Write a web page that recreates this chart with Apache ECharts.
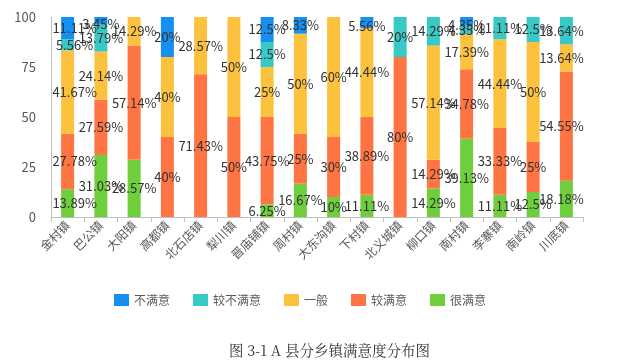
<!DOCTYPE html>
<html><head><meta charset="utf-8">
<script src="https://cdn.jsdelivr.net/npm/echarts@6/dist/echarts.min.js"></script>
<style>html,body{margin:0;padding:0;background:#fff}#c{width:622px;height:363px}</style>
</head><body><div id="c"></div>
<script>
const categories = ['金村镇','巴公镇','大阳镇','高都镇','北石店镇','犁川镇','晋庙铺镇','周村镇','大东沟镇','下村镇','北义城镇','柳口镇','南村镇','李寨镇','南岭镇','川底镇'];
const veryUnsat = [11.11, 3.45, 0, 20, 0, 0, 12.5, 8.33, 0, 5.56, 0, 0, 4.35, 0, 0, 0];
const ratherUnsat = [5.56, 13.79, 0, 0, 0, 0, 12.5, 0, 0, 0, 20, 14.29, 4.35, 11.11, 12.5, 13.64];
const neutral = [41.67, 24.14, 14.29, 40, 28.57, 50, 25, 50, 60, 44.44, 0, 57.14, 17.39, 44.44, 50, 13.64];
const ratherSat = [27.78, 27.59, 57.14, 40, 71.43, 50, 43.75, 25, 30, 38.89, 80, 14.29, 34.78, 33.33, 25, 54.55];
const verySat = [13.89, 31.03, 28.57, 0, 0, 0, 6.25, 16.67, 10, 11.11, 0, 14.29, 39.13, 11.11, 12.5, 18.18];
const yTicks = [0, 25, 50, 75, 100];

const colors = {'不满意':'#1590f0','较不满意':'#38c8c6','一般':'#fcc23e','较满意':'#fe7442','很满意':'#6fce3c'};

function mk(name, arr, topSeries) {
  return {
    name, type: 'bar', stack: 'all', barWidth: 13,
    itemStyle: {color: colors[name]},
    data: arr.map((v, i) => {
      const d = {value: v};
      let ox = 0, oy = 0;
      if (i === 0) ox = 7;
      if (i === categories.length - 1) ox = -5;
      if (topSeries && v > 0 && v < 7) oy = 4;
      d.label = {offset: [ox, oy]};
      return d;
    }),
    label: {
      show: true, position: 'inside', color: '#333', fontSize: 13,
      fontFamily: 'Noto Sans CJK SC, sans-serif',
      formatter: p => p.value > 0 ? p.value + '%' : ''
    }
  };
}

const chart = echarts.init(document.getElementById('c'));
chart.setOption({
  animation: false,
  title: {
    text: '图 3-1 A 县分乡镇满意度分布图', left: 224, top: 338,
    textStyle: {fontSize: 14.5, fontWeight: 'normal', color: '#333', fontFamily: 'Noto Serif CJK SC, DejaVu Serif, serif'}
  },
  legend: {
    left: 109, top: 289, itemWidth: 15, itemHeight: 12, itemGap: 23,
    icon: 'rect',
    textStyle: {fontSize: 12, color: '#595959', fontFamily: 'Noto Sans CJK SC, sans-serif'},
    data: ['不满意','较不满意','一般','较满意','很满意']
  },
  grid: {left: 51, right: 39, top: 17, bottom: 146},
  xAxis: {
    type: 'category', data: categories,
    axisLine: {lineStyle: {color: '#bfbfbf'}},
    axisTick: {show: true, length: 5, lineStyle: {color: '#bfbfbf'}},
    axisLabel: {rotate: 45, fontSize: 12, color: '#595959', margin: 6, interval: 0, fontFamily: 'Noto Sans CJK SC, sans-serif'}
  },
  yAxis: {
    type: 'value', min: yTicks[0], max: yTicks[yTicks.length - 1], interval: 25,
    splitLine: {show: false},
    axisLine: {show: true, lineStyle: {color: '#bfbfbf'}},
    axisTick: {show: false},
    axisLabel: {fontSize: 13, color: '#595959', margin: 15, fontFamily: 'Noto Sans CJK SC, sans-serif'}
  },
  series: [
    mk('很满意', verySat, false),
    mk('较满意', ratherSat, false),
    mk('一般', neutral, false),
    mk('较不满意', ratherUnsat, false),
    mk('不满意', veryUnsat, true)
  ]
});
</script></body></html>
